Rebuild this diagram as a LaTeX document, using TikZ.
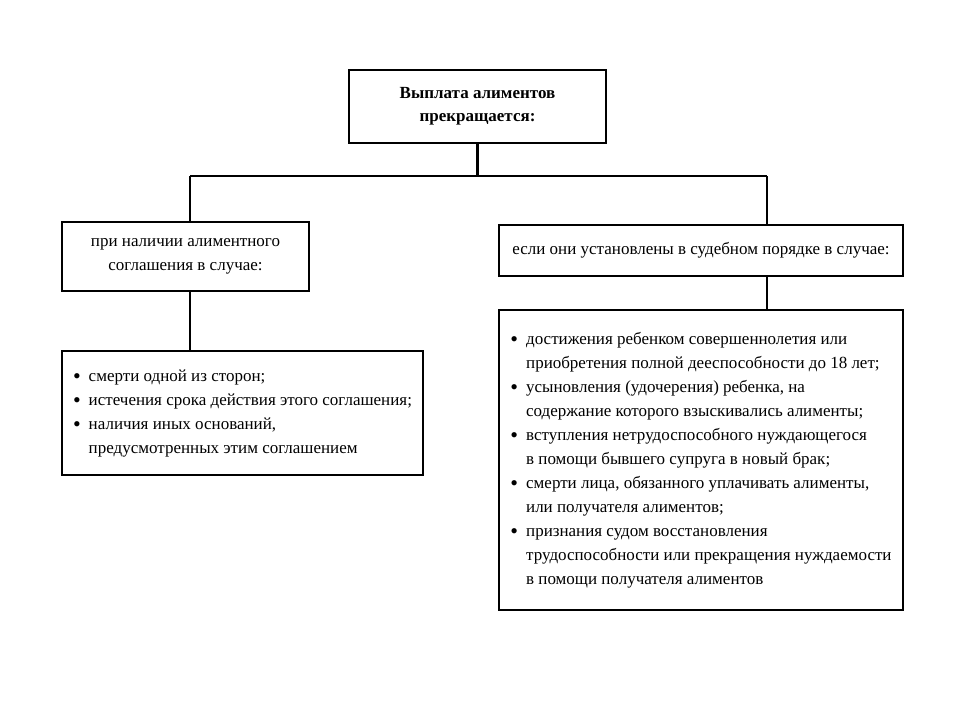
\documentclass[tikz,border=0pt]{standalone}
\usepackage{fontspec}
\setmainfont{Liberation Serif}
\usetikzlibrary{positioning,calc}
\newcommand{\bdot}{\raisebox{-1.8pt}{\fontsize{22}{24}\selectfont\textbullet}}

\begin{document}
\begin{tikzpicture}[
  x=1pt, y=-1pt,
  font=\fontsize{17}{24}\selectfont,
  every node/.append style={align=center},
  headbox/.style={draw, line width=2.4pt, minimum width=257pt, minimum height=73pt, inner sep=2pt, font=\fontsize{17}{23}\selectfont\bfseries},
  casebox/.style={draw, line width=2.4pt, minimum height=69pt, inner sep=2pt},
  listbox/.style={draw, line width=2.4pt, inner sep=2pt},
  conn/.style={line width=2.2pt},
]
\useasboundingbox (0,0) rectangle (960,720);
% top
\node[headbox] (head) at (477.5,106.5) {Выплата алиментов\\прекращается:};
% branches
\node[casebox, minimum width=247pt] (agree) at (185.5,256.5) {при наличии алиментного\\соглашения в случае:};
\node[casebox, minimum width=404pt, minimum height=51pt] (court) at (701,250.5) {если они установлены в судебном порядке в случае:};
% lists
\node[listbox, minimum width=361pt, minimum height=124pt] (agreelist) at (242.5,413) {%
  \begin{tabular}{@{}l@{\hspace{8pt}}l@{}}
  \bdot & смерти одной из сторон;\\
  \bdot & истечения срока действия этого соглашения;\\
  \bdot & наличия иных оснований,\\
        & предусмотренных этим соглашением
  \end{tabular}};
\node[listbox, minimum width=404pt, minimum height=300pt] (courtlist) at (701,460) {%
  \begin{tabular}{@{}l@{\hspace{8pt}}l@{}}
  \bdot & достижения ребенком совершеннолетия или\\
        & приобретения полной дееспособности до 18 лет;\\
  \bdot & усыновления (удочерения) ребенка, на\\
        & содержание которого взыскивались алименты;\\
  \bdot & вступления нетрудоспособного нуждающегося\\
        & в помощи бывшего супруга в новый брак;\\
  \bdot & смерти лица, обязанного уплачивать алименты,\\
        & или получателя алиментов;\\
  \bdot & признания судом восстановления\\
        & трудоспособности или прекращения нуждаемости\\
        & в помощи получателя алиментов
  \end{tabular}};
% connectors
\coordinate (fork) at (477.5,176);
\coordinate (forkl) at (190,176);
\coordinate (forkr) at (767,176);
\draw[conn] (head.south) -- (fork);
\draw[conn] (forkl) -- (forkr);
\draw[conn] (forkl) -- (forkl |- agree.north);
\draw[conn] (forkr) -- (forkr |- court.north);
\draw[conn] (forkl |- agree.south) -- (forkl |- agreelist.north);
\draw[conn] (forkr |- court.south) -- (forkr |- courtlist.north);
\end{tikzpicture}
\end{document}
